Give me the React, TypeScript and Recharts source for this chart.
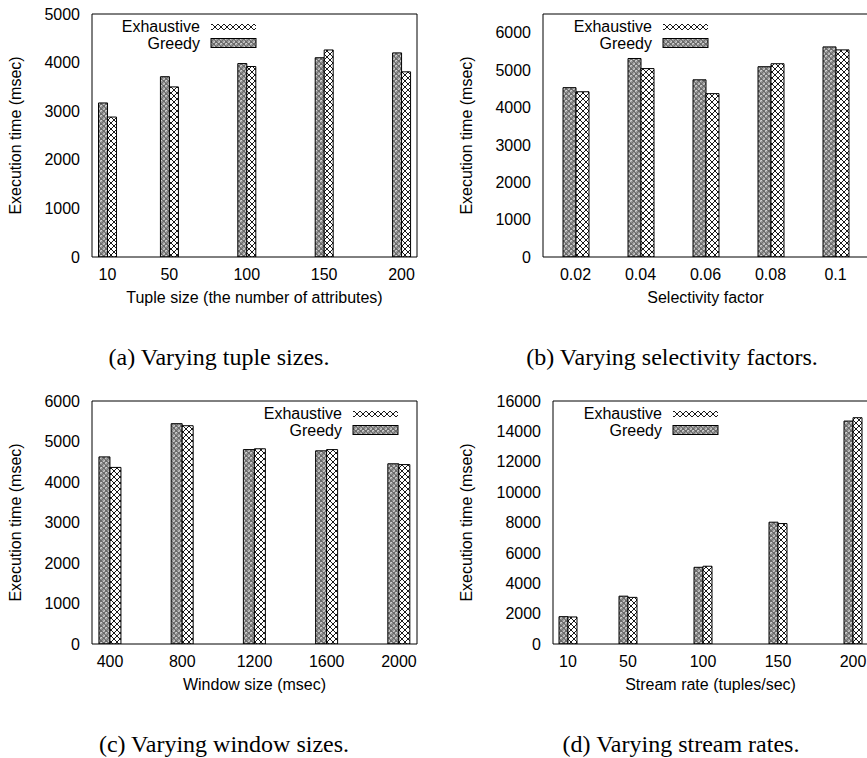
import React from 'react';
import { BarChart, Bar, XAxis, YAxis, Legend } from 'recharts';

// series names, legend order
const seriesNames = ['Exhaustive', 'Greedy'];

// (a) tuple size
const tupleSizes = [10, 50, 100, 150, 200];
const tupleGreedy = [3170, 3710, 3980, 4100, 4200];
const tupleExhaustive = [2880, 3500, 3920, 4260, 3810];

// (b) selectivity factor
const selectivity = [0.02, 0.04, 0.06, 0.08, 0.1];
const selGreedy = [4530, 5310, 4740, 5090, 5620];
const selExhaustive = [4420, 5040, 4370, 5170, 5540];

// (c) window size
const windowSizes = [400, 800, 1200, 1600, 2000];
const winGreedy = [4620, 5440, 4800, 4770, 4450];
const winExhaustive = [4360, 5390, 4820, 4800, 4430];

// (d) stream rate
const streamRates = [10, 50, 100, 150, 200];
const rateGreedy = [1800, 3150, 5050, 8020, 14680];
const rateExhaustive = [1780, 3070, 5120, 7930, 14900];

const ticks5000 = [0, 1000, 2000, 3000, 4000, 5000];
const ticks6000 = [0, 1000, 2000, 3000, 4000, 5000, 6000];
const ticks16000 = [0, 2000, 4000, 6000, 8000, 10000, 12000, 14000, 16000];

const CHART_H = 320;
const BLACK = '#000';
const FONT = 16;

type PanelProps = {
  left: number;
  top: number;
  width: number;
  yAxisWidth: number;
  plotWidth: number;
  xs: number[];
  greedy: number[];
  exhaustive: number[];
  xDomain: [number, number];
  yDomain: [number, number];
  yTicks: number[];
  barSize: number;
  xTitle: string;
  yTitleX: number;
  legendLeft: number;
};

const renderLegend = () => (
  <svg width={150} height={40} style={{ display: 'block' }}>
    <text x={90} y={13.7} textAnchor="end" fontSize={FONT} fill={BLACK}>
      {seriesNames[0]}
    </text>
    <rect x={101} y={6} width={45} height={6} fill="url(#pat-cross)" />
    <text x={90} y={31} textAnchor="end" fontSize={FONT} fill={BLACK}>
      {seriesNames[1]}
    </text>
    <rect x={101} y={20.5} width={45} height={9} fill="url(#pat-circle)" stroke={BLACK} strokeWidth={1} />
  </svg>
);

const Panel: React.FC<PanelProps> = (p) => {
  const data = p.xs.map((x, i) => ({ x, greedy: p.greedy[i], exhaustive: p.exhaustive[i] }));
  const rightMargin = p.width - p.yAxisWidth - p.plotWidth;

  const yTitle = (props: any) => {
    const vb = props.viewBox || { y: 14, height: 243 };
    const cx = p.yTitleX;
    const cy = vb.y + vb.height / 2;
    return (
      <text
        x={cx}
        y={cy}
        transform={`rotate(-90 ${cx} ${cy})`}
        textAnchor="middle"
        dominantBaseline="central"
        fontSize={FONT}
        fill={BLACK}
      >
        Execution time (msec)
      </text>
    );
  };

  const frameX = {
    dataKey: 'x',
    type: 'number' as const,
    domain: p.xDomain,
    ticks: p.xs,
    interval: 0 as const,
    allowDataOverflow: true,
  };
  const frameY = {
    type: 'number' as const,
    domain: p.yDomain,
    ticks: p.yTicks,
    interval: 0 as const,
    allowDataOverflow: true,
  };

  return (
    <div style={{ position: 'absolute', left: p.left, top: p.top }}>
      <BarChart
        width={p.width}
        height={CHART_H}
        data={data}
        margin={{ top: 14, right: rightMargin, bottom: 17, left: 0 }}
        barGap={0}
      >
        <XAxis
          xAxisId="x"
          {...frameX}
          height={46}
          tickLine={false}
          axisLine={{ stroke: BLACK }}
          tick={{ fill: BLACK, fontSize: FONT }}
          tickSize={6}
          tickMargin={6}
          label={{ value: p.xTitle, position: 'insideBottom', offset: 0, fill: BLACK, fontSize: FONT }}
        />
        <XAxis xAxisId="xb" {...frameX} mirror tick={false} axisLine={false} tickLine={{ stroke: BLACK }} tickSize={6} />
        <XAxis
          xAxisId="xt"
          {...frameX}
          orientation="top"
          mirror
          tick={false}
          axisLine={{ stroke: BLACK }}
          tickLine={{ stroke: BLACK }}
          tickSize={6}
        />
        <YAxis
          yAxisId="y"
          {...frameY}
          width={p.yAxisWidth}
          tickLine={false}
          axisLine={{ stroke: BLACK }}
          tick={{ fill: BLACK, fontSize: FONT }}
          tickSize={6}
          tickMargin={6}
          label={{ content: yTitle }}
        />
        <YAxis yAxisId="yl" {...frameY} mirror tick={false} axisLine={false} tickLine={{ stroke: BLACK }} tickSize={6} />
        <YAxis
          yAxisId="yr"
          {...frameY}
          orientation="right"
          mirror
          tick={false}
          axisLine={{ stroke: BLACK }}
          tickLine={{ stroke: BLACK }}
          tickSize={6}
        />
        <Bar
          xAxisId="x"
          yAxisId="y"
          dataKey="greedy"
          name={seriesNames[1]}
          barSize={p.barSize}
          fill="url(#pat-circle)"
          stroke={BLACK}
          strokeWidth={1}
          isAnimationActive={false}
        />
        <Bar
          xAxisId="x"
          yAxisId="y"
          dataKey="exhaustive"
          name={seriesNames[0]}
          barSize={p.barSize}
          fill="url(#pat-cross)"
          stroke={BLACK}
          strokeWidth={1}
          isAnimationActive={false}
        />
        <Legend
          layout="horizontal"
          align="center"
          verticalAlign="middle"
          content={renderLegend}
          wrapperStyle={{ left: p.legendLeft, top: 18, width: 150, height: 40 }}
        />
      </BarChart>
    </div>
  );
};

const App: React.FC = () => {
  const serif = '"Liberation Serif", "Times New Roman", serif';
  return (
    <div
      style={{
        position: 'absolute',
        left: 0,
        top: 0,
        width: 867,
        height: 758,
        overflow: 'hidden',
        background: '#fff',
        fontFamily: '"Liberation Sans", Arial, sans-serif',
      }}
    >
      <svg width={0} height={0} style={{ position: 'absolute' }}>
        <defs>
          <pattern id="pat-cross" width={6} height={6} patternUnits="userSpaceOnUse">
            <rect width={6} height={6} fill="#fff" />
            <path d="M0,0 L6,6 M6,0 L0,6" stroke="#000" strokeWidth={0.9} />
          </pattern>
          <pattern id="pat-circle" width={5} height={5} patternUnits="userSpaceOnUse">
            <rect width={5} height={5} fill="#6a6a6a" />
            <circle cx={1.25} cy={1.25} r={1.15} fill="#eee" />
            <circle cx={3.75} cy={3.75} r={1.15} fill="#eee" />
            <circle cx={1.25} cy={1.25} r={0.45} fill="#222" />
            <circle cx={3.75} cy={3.75} r={0.45} fill="#222" />
          </pattern>
        </defs>
      </svg>

      <Panel
        left={0}
        top={0}
        width={433}
        yAxisWidth={92}
        plotWidth={325}
        xs={tupleSizes}
        greedy={tupleGreedy}
        exhaustive={tupleExhaustive}
        xDomain={[0, 210]}
        yDomain={[0, 5000]}
        yTicks={ticks5000}
        barSize={9}
        xTitle="Tuple size (the number of attributes)"
        yTitleX={15.7}
        legendLeft={110}
      />
      <Panel
        left={430}
        top={0}
        width={440}
        yAxisWidth={113}
        plotWidth={325}
        xs={selectivity}
        greedy={selGreedy}
        exhaustive={selExhaustive}
        xDomain={[0.01, 0.11]}
        yDomain={[0, 6500]}
        yTicks={ticks6000}
        barSize={13}
        xTitle="Selectivity factor"
        yTitleX={36.7}
        legendLeft={132}
      />
      <Panel
        left={0}
        top={387}
        width={433}
        yAxisWidth={92}
        plotWidth={325}
        xs={windowSizes}
        greedy={winGreedy}
        exhaustive={winExhaustive}
        xDomain={[300, 2100]}
        yDomain={[0, 6000]}
        yTicks={ticks6000}
        barSize={11}
        xTitle="Window size (msec)"
        yTitleX={15.7}
        legendLeft={252}
      />
      <Panel
        left={430}
        top={387}
        width={440}
        yAxisWidth={123}
        plotWidth={315}
        xs={streamRates}
        greedy={rateGreedy}
        exhaustive={rateExhaustive}
        xDomain={[0, 210]}
        yDomain={[0, 16000]}
        yTicks={ticks16000}
        barSize={9}
        xTitle="Stream rate (tuples/sec)"
        yTitleX={36.7}
        legendLeft={142}
      />

      <svg width={867} height={758} style={{ position: 'absolute', left: 0, top: 0, pointerEvents: 'none' }}>
        <g fontFamily={serif} fontSize={24} fill={BLACK}>
          <text x={219} y={365} textAnchor="middle">(a) Varying tuple sizes.</text>
          <text x={672} y={365} textAnchor="middle">(b) Varying selectivity factors.</text>
          <text x={224} y={752} textAnchor="middle">(c) Varying window sizes.</text>
          <text x={681} y={752} textAnchor="middle">(d) Varying stream rates.</text>
        </g>
      </svg>
    </div>
  );
};

export default App;
